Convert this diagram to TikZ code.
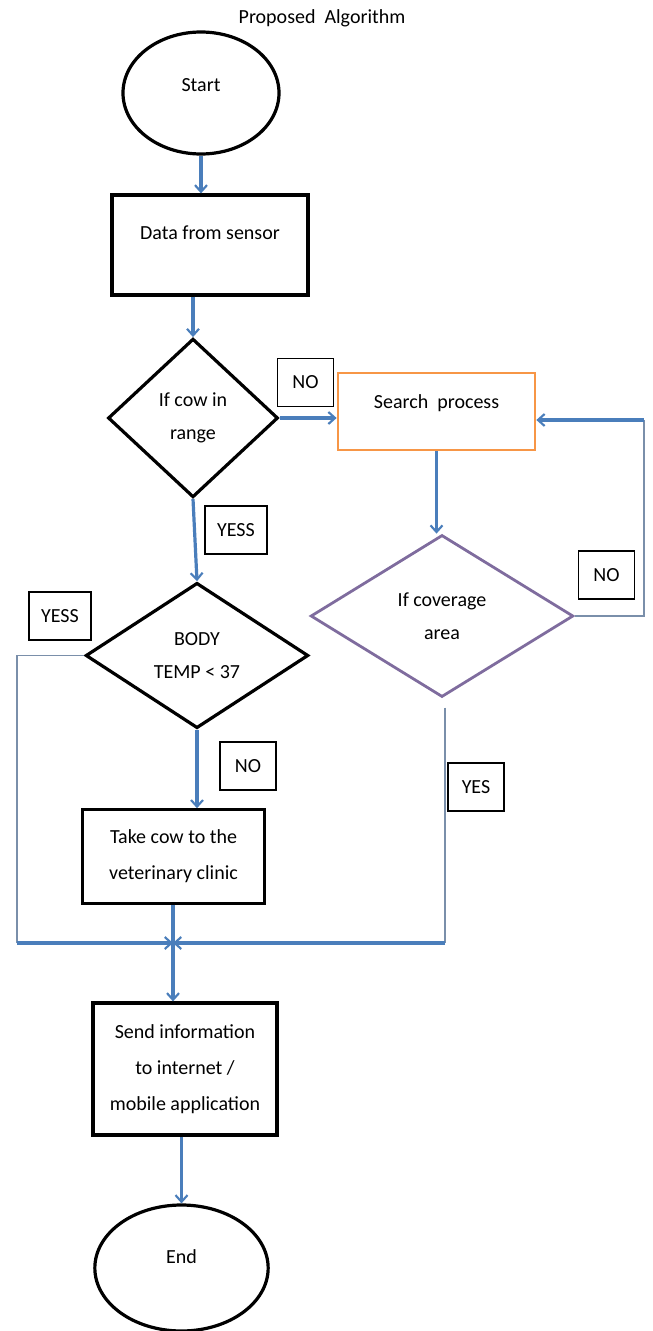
\documentclass[tikz,border=0pt]{standalone}
\usepackage{fontspec}
\setmainfont{Carlito}
\usetikzlibrary{shapes.geometric, arrows.meta}
\definecolor{flowblue}{HTML}{4A7EBB}
\definecolor{thingray}{HTML}{7A8FAA}
\definecolor{boxorange}{HTML}{F79646}
\definecolor{boxpurple}{HTML}{7F6C9E}

\begin{document}
\begin{tikzpicture}[x=0.75pt,y=-0.75pt,
        font=\fontsize{15}{27}\selectfont,
        terminal/.style={ellipse,draw,line width=2.4pt,minimum width=117pt,minimum height=91.5pt},
        process/.style={rectangle,draw,line width=2.4pt,align=center},
        decision/.style={diamond,draw,line width=2.4pt,inner sep=0pt,align=center,font=\fontsize{15}{25}\selectfont},
        tag/.style={rectangle,draw,line width=1.1pt,minimum width=42pt,minimum height=36pt,inner xsep=9pt},
        flowline/.style={line width=2.4pt,flowblue},
        flow/.style={flowline,-{Straight Barb[length=5pt,width=9pt,line width=1.6pt]}},
        thinline/.style={line width=1.1pt,thingray}]
            \useasboundingbox (0,0) rectangle (653,1331);
            \node (title) at (322,18) {Proposed\ \ Algorithm};
            \node (start) at (201,93) [terminal,text depth=12.5pt]{Start};
            \node (data) at (210,245) [process,minimum width=147pt,minimum height=75pt,text depth=18pt]{Data from sensor};
            \node (range) at (193,418) [decision,minimum width=127.5pt,minimum height=119pt]{If cow in\\range};
            \node (search) at (436.5,411.5) [process,draw=boxorange,line width=1.8pt,minimum width=148pt,minimum height=58pt,text depth=14.5pt]{Search\ \ process};
            \node (coverage) at (442,616) [decision,draw=boxpurple,line width=2.1pt,minimum width=197pt,minimum height=121.5pt]{If coverage\\area};
            \node (body) at (197,655.5) [decision,minimum width=167pt,minimum height=109pt]{BODY\\TEMP < 37};
            \node (take) at (173.5,856.5) [process,minimum width=136pt,minimum height=70pt]{Take cow to the\\veterinary clinic};
            \node (send) at (185,1069) [process,minimum width=138pt,minimum height=99pt]{Send information\\to internet /\\mobile application};
            \node (end) at (181.5,1268) [terminal,minimum width=130pt,minimum height=94.5pt,text depth=16.5pt]{End};
            \node (no1) at (305.5,382.5) [tag]{NO};
            \node (yess1) at (236,530) [tag]{YESS};
            \node (yess2) at (60,616) [tag]{YESS};
            \node (no2) at (606.5,575) [tag]{NO};
            \node (no3) at (248,766) [tag]{NO};
            \node (yes) at (476,787) [tag]{YES};
            \coordinate (merge) at (173,943);
            \coordinate (leftcorner) at (17,943);
            \coordinate (rightcorner) at (445,943);
            \coordinate (looptop) at (644,420);
            \draw[flow] (start.south) -- (start.south |- data.north);
            \draw[flow] (range.north |- data.south) -- (range.north);
            \draw[flow] (range.east) -- (search.west |- range.east);
            \draw[flow] (range.south) -- (body.north);
            \draw[flow] (search.south) -- (search.south |- coverage.north);
            \draw[thinline] (coverage.east) -| (looptop);
            \draw[flow] (looptop) -- (search.east |- looptop);
            \draw[flow] (body.south) -- (body.south |- take.north);
            \draw[thinline] (body.west) -| (leftcorner);
            \draw[thinline,shorten <=7pt] (coverage.south -| rightcorner) -- (rightcorner);
            \draw[flowline] (take.south -| merge) -- (merge);
            \draw[flow] (leftcorner) -- (merge);
            \draw[flow] (rightcorner) -- (merge);
            \draw[flow] (merge) -- (merge |- send.north);
            \draw[flow] (send.south -| end.north) -- (end.north);
        \end{tikzpicture}
\end{document}
